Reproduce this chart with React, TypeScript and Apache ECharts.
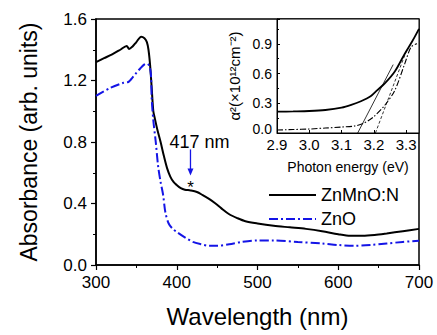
import React, { useEffect, useRef } from 'react';
import * as echarts from 'echarts';

const FONT = 'Arial, "Liberation Sans", Helvetica, sans-serif';

// Main panel: absorbance spectra
const znmnoWl = [300, 310, 320, 330, 338, 341, 345, 350, 356, 360, 363, 365, 367, 369, 371, 373, 376, 380, 384, 388, 392, 396, 400, 405, 410, 417, 425, 432, 440, 448, 455, 465, 475, 485, 500, 520, 540, 560, 580, 600, 615, 630, 645, 660, 680, 700];
const znmnoAbs = [1.32, 1.345, 1.37, 1.4, 1.425, 1.405, 1.42, 1.45, 1.485, 1.475, 1.45, 1.4, 1.3, 1.15, 1.0, 0.95, 0.88, 0.8, 0.71, 0.63, 0.575, 0.54, 0.52, 0.5, 0.49, 0.485, 0.475, 0.455, 0.43, 0.4, 0.37, 0.33, 0.305, 0.285, 0.27, 0.255, 0.245, 0.235, 0.22, 0.2, 0.19, 0.19, 0.195, 0.205, 0.22, 0.235];

const znoWl = [300, 317, 334, 340, 343, 350, 355, 360, 363, 366, 368, 369, 371, 374, 377, 380, 383, 386, 390, 395, 400, 410, 420, 430, 440, 450, 465, 480, 500, 520, 550, 580, 600, 620, 640, 660, 680, 700];
const znoAbs = [1.1, 1.15, 1.185, 1.19, 1.205, 1.25, 1.28, 1.305, 1.31, 1.295, 1.24, 1.08, 0.94, 0.8, 0.64, 0.54, 0.46, 0.34, 0.27, 0.235, 0.215, 0.18, 0.15, 0.135, 0.125, 0.125, 0.135, 0.15, 0.16, 0.16, 0.15, 0.14, 0.13, 0.125, 0.13, 0.14, 0.15, 0.158];

// Inset: alpha^2 vs photon energy
const insetEnergyA = [2.9, 2.95, 3.0, 3.05, 3.1, 3.13, 3.16, 3.19, 3.21, 3.234, 3.265, 3.296, 3.32, 3.34];
const insetAlphaA = [0.215, 0.218, 0.222, 0.232, 0.255, 0.283, 0.32, 0.37, 0.43, 0.5, 0.62, 0.8, 0.93, 1.05];
const insetEnergyB = [2.9, 2.95, 3.0, 3.05, 3.1, 3.14, 3.17, 3.2, 3.234, 3.265, 3.296, 3.316, 3.334];
const insetAlphaB = [0.03, 0.035, 0.04, 0.05, 0.06, 0.07, 0.1, 0.165, 0.28, 0.43, 0.7, 0.87, 0.9];
const fitEnergyA = [3.15, 3.26];
const fitAlphaA = [0, 0.69];
const fitEnergyB = [3.205, 3.3];
const fitAlphaB = [0, 0.82];

const mainXTicks = [300, 400, 500, 600, 700];
const mainYTicks = [0, 0.4, 0.8, 1.2, 1.6];
const insetXTicks = [2.9, 3.0, 3.1, 3.2, 3.3];
const insetYTicks = [0, 0.3, 0.6, 0.9];

const ANNOT_WL = 417;
const ANNOT_LABEL = '417 nm';

const zip = (xs: number[], ys: number[]) => xs.map((x, i) => [x, ys[i]]);
const BLUE = '#1414e6';

export default function App() {
  const ref = useRef<HTMLDivElement>(null);
  useEffect(() => {
    const chart = echarts.init(ref.current!, null, { renderer: 'svg' });
    const option: any = {
      animation: false,
      backgroundColor: '#fff',
      textStyle: { fontFamily: FONT },
      grid: [
        { left: 96, right: 18, top: 19, bottom: 70, show: true, borderColor: '#000', borderWidth: 1.5, backgroundColor: 'transparent' },
        { left: 277, right: 18, top: 19, bottom: 202, show: true, borderColor: '#000', borderWidth: 1, backgroundColor: '#fff' },
      ],
      xAxis: [
        {
          type: 'value', gridIndex: 0, min: 300, max: 700, interval: 100,
          name: 'Wavelength (nm)', nameLocation: 'middle', nameGap: 39,
          nameTextStyle: { fontSize: 24, color: '#000', fontFamily: FONT, verticalAlign: 'top' },
          axisLine: { lineStyle: { color: '#000', width: 1.5 } },
          axisTick: { length: 5, lineStyle: { color: '#000', width: 1.2 } },
          minorTick: { show: true, splitNumber: 2, length: 3, lineStyle: { color: '#000' } },
          splitLine: { show: false },
          axisLabel: { fontSize: 17, color: '#000', margin: 9, fontFamily: FONT,
            formatter: (v: number) => (mainXTicks.includes(v) ? String(v) : '') },
        },
        {
          type: 'value', gridIndex: 1, min: 2.9, max: 3.34, interval: 0.1,
          name: 'Photon energy (eV)', nameLocation: 'middle', nameGap: 27,
          nameTextStyle: { fontSize: 14, color: '#000', fontFamily: FONT, verticalAlign: 'top' },
          axisLine: { lineStyle: { color: '#000', width: 1 } },
          axisTick: { inside: true, length: 3, lineStyle: { color: '#000' } },
          splitLine: { show: false },
          axisLabel: { fontSize: 15, color: '#000', margin: 4, fontFamily: FONT, showMaxLabel: false,
            formatter: (v: number) => (insetXTicks.some((t) => Math.abs(t - v) < 1e-6) ? v.toFixed(1) : '') },
        },
      ],
      yAxis: [
        {
          type: 'value', gridIndex: 0, min: 0, max: 1.6, interval: 0.4,
          name: 'Absorbance (arb. units)', nameLocation: 'middle', nameGap: 56, nameRotate: 90,
          nameTextStyle: { fontSize: 23, color: '#000', fontFamily: FONT },
          axisLine: { show: true, lineStyle: { color: '#000', width: 1.5 } },
          axisTick: { show: true, length: 5, lineStyle: { color: '#000', width: 1.2 } },
          minorTick: { show: true, splitNumber: 2, length: 3, lineStyle: { color: '#000' } },
          splitLine: { show: false },
          axisLabel: { fontSize: 17, color: '#000', margin: 9, fontFamily: FONT,
            formatter: (v: number) => (mainYTicks.some((t) => Math.abs(t - v) < 1e-6) ? v.toFixed(1) : '') },
        },
        {
          type: 'value', gridIndex: 1, min: 0, max: 1.15, interval: 0.3,
          name: 'α²(×10¹²cm⁻²)', nameLocation: 'middle', nameGap: 35, nameRotate: 90,
          nameTextStyle: { fontSize: 15, color: '#000', fontFamily: FONT },
          axisLine: { show: true, lineStyle: { color: '#000', width: 1 } },
          axisTick: { show: true, inside: true, length: 3, lineStyle: { color: '#000' } },
          minorTick: { show: true, splitNumber: 2, length: 2, lineStyle: { color: '#000' } },
          splitLine: { show: false },
          axisLabel: { fontSize: 14, color: '#000', margin: 5, fontFamily: FONT, showMaxLabel: false,
            rich: { z: { fontSize: 14, fontFamily: FONT, color: '#000', padding: [0, 0, 9, 0] } },
            formatter: (v: number) => {
              if (Math.abs(v) < 1e-6) return '{z|0.0}';
              return insetYTicks.some((t) => Math.abs(t - v) < 1e-6) ? v.toFixed(1) : '';
            } },
        },
      ],
      legend: {
        orient: 'vertical', left: 263, top: 181, itemWidth: 47, itemHeight: 14, itemGap: 6,
        data: ['ZnMnO:N', 'ZnO'],
        itemStyle: { opacity: 0 },
        textStyle: { fontSize: 18, color: '#000', fontFamily: FONT },
      },
      series: [
        { name: 'ZnMnO:N', type: 'line', xAxisIndex: 0, yAxisIndex: 0, data: zip(znmnoWl, znmnoAbs), symbol: 'none', smooth: 0.3,
          lineStyle: { color: '#000', width: 2 }, itemStyle: { color: '#000' } },
        { name: 'ZnO', type: 'line', xAxisIndex: 0, yAxisIndex: 0, data: zip(znoWl, znoAbs), symbol: 'none', smooth: 0.3,
          lineStyle: { color: BLUE, width: 2, type: [9, 3, 2, 3] }, itemStyle: { color: BLUE } },
        { name: 'inset-A', type: 'line', xAxisIndex: 1, yAxisIndex: 1, data: zip(insetEnergyA, insetAlphaA), symbol: 'none', smooth: 0.3,
          lineStyle: { color: '#000', width: 1.8 } },
        { name: 'inset-B', type: 'line', xAxisIndex: 1, yAxisIndex: 1, data: zip(insetEnergyB, insetAlphaB), symbol: 'none', smooth: 0.3,
          lineStyle: { color: '#000', width: 1.1, type: [6, 2, 1.5, 2] } },
        { name: 'fit-A', type: 'line', xAxisIndex: 1, yAxisIndex: 1, data: zip(fitEnergyA, fitAlphaA), symbol: 'none',
          lineStyle: { color: '#000', width: 0.8 } },
        { name: 'fit-B', type: 'line', xAxisIndex: 1, yAxisIndex: 1, data: zip(fitEnergyB, fitAlphaB), symbol: 'none',
          lineStyle: { color: '#000', width: 0.8, type: [3, 2] } },
      ],
    };
    chart.setOption(option);

    const idx = znmnoWl.indexOf(ANNOT_WL);
    const annY = znmnoAbs[idx];
    const [px, py] = chart.convertToPixel({ xAxisIndex: 0, yAxisIndex: 0 }, [ANNOT_WL, annY]) as number[];
    chart.setOption({
      graphic: [
        { type: 'text', left: px - 21, top: py - 57, style: { text: ANNOT_LABEL, fontSize: 18, fill: '#000', fontFamily: FONT } },
        { type: 'line', shape: { x1: px, y1: py - 41, x2: px, y2: py - 19 }, style: { stroke: BLUE, lineWidth: 1.3 } },
        { type: 'polygon', shape: { points: [[px - 3, py - 22], [px + 3, py - 22], [px, py - 15]] }, style: { fill: BLUE } },
        { type: 'text', x: px, y: py - 3, style: { text: '*', fontSize: 17, fill: '#000', fontFamily: FONT, align: 'center', verticalAlign: 'middle' } },
      ],
    });
    return () => chart.dispose();
  }, []);
  return <div ref={ref} style={{ position: 'fixed', left: 0, top: 0, width: 437, height: 335 }} />;
}
